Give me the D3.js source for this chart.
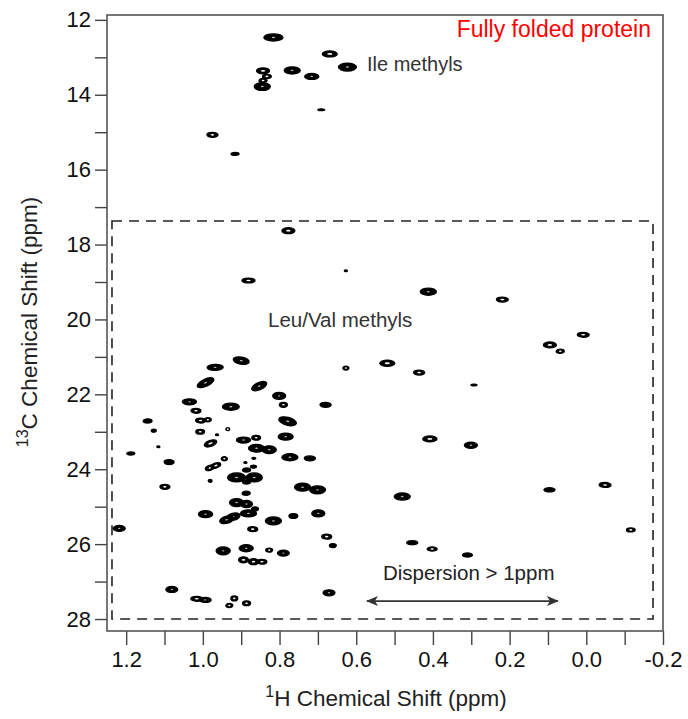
<!DOCTYPE html>
<html>
<head>
<meta charset="utf-8">
<script src="https://cdn.jsdelivr.net/npm/d3@7"></script>
<style>
  html, body { margin: 0; padding: 0; background: #fff; }
  svg text { font-family: "Liberation Sans", Arial, sans-serif; }
</style>
</head>
<body>
<svg id="chart" width="688" height="719"></svg>
<script>
// ---------------- DATA ----------------
// Axis ranges (ppm)
const hDomain = [1.25, -0.2];
const cDomain = [11.87, 28.32];
const hTickValues = [1.2, 1.1, 1.0, 0.9, 0.8, 0.7, 0.6, 0.5, 0.4, 0.3, 0.2, 0.1, 0.0, -0.1, -0.2];
const hTickLabels = ["1.2", "", "1.0", "", "0.8", "", "0.6", "", "0.4", "", "0.2", "", "0.0", "", "-0.2"];
const cTickValues = [12, 13, 14, 15, 16, 17, 18, 19, 20, 21, 22, 23, 24, 25, 26, 27, 28];
const cTickLabels = ["12", "", "14", "", "16", "", "18", "", "20", "", "22", "", "24", "", "26", "", "28"];

// Ile methyl peaks: 1H shift, 13C shift, linewidth H (ppm), linewidth C (ppm), ring contour (1) or solid (0)
const ileH    = [0.816, 0.669, 0.843, 0.833, 0.843, 0.767, 0.716, 0.623, 0.845, 0.691, 0.975, 0.916];
const ileC    = [12.47, 12.91, 13.36, 13.51, 13.62, 13.35, 13.51, 13.26, 13.78, 14.40, 15.07, 15.58];
const ileLwH  = [0.050, 0.039, 0.034, 0.023, 0.021, 0.042, 0.037, 0.047, 0.042, 0.018, 0.029, 0.021];
const ileLwC  = [0.19, 0.16, 0.16, 0.11, 0.11, 0.19, 0.16, 0.21, 0.21, 0.05, 0.13, 0.08];
const ileRing = [0, 1, 1, 1, 1, 0, 0, 0, 0, 0, 1, 0];

// Leu/Val methyl peaks
const lvH = [0.777, 0.627, 0.881, 0.412, 0.219, 0.008, 0.095, 0.068, 0.519, 0.436, 0.627, 0.293,
  0.408, 0.301, 0.480, 0.096, -0.049, -0.116, 0.454, 0.402, 0.310,
  0.900, 0.968, 0.993, 0.853, 1.035, 0.801, 0.927, 0.790, 0.680, 1.018, 1.006, 0.987,
  0.779, 1.144, 1.128, 1.007, 0.935, 0.784, 0.894, 0.861, 0.980, 0.963, 1.116, 0.860,
  0.827, 1.188, 0.773, 0.721, 1.088, 0.944, 0.867, 0.889, 0.981, 0.966, 0.886, 0.868,
  0.912, 0.866, 0.886, 1.099, 0.981, 0.740, 0.701, 0.887, 0.912, 0.886, 0.993, 0.881,
  0.921, 0.938, 0.864, 0.816, 0.764, 0.699, 1.218, 0.870, 0.677, 0.661, 0.947, 0.887,
  0.827, 0.790, 0.894, 0.868, 0.846, 1.081, 1.016, 0.994, 0.918, 0.886, 0.931, 0.671];
const lvC = [17.63, 18.70, 18.96, 19.26, 19.47, 20.41, 20.68, 20.85, 21.17, 21.42, 21.30, 21.75,
  23.19, 23.36, 24.73, 24.55, 24.42, 25.62, 25.96, 26.13, 26.29,
  21.10, 21.28, 21.69, 21.78, 22.20, 22.04, 22.33, 22.28, 22.28, 22.44, 22.70, 22.68,
  22.72, 22.71, 22.97, 23.00, 22.93, 23.13, 23.22, 23.16, 23.31, 23.08, 23.40, 23.44,
  23.48, 23.58, 23.68, 23.71, 23.81, 23.72, 23.71, 23.82, 23.96, 23.90, 24.02, 23.93,
  24.22, 24.22, 24.34, 24.47, 24.31, 24.48, 24.55, 24.64, 24.89, 24.93, 25.20, 25.18,
  25.27, 25.35, 25.06, 25.38, 25.25, 25.18, 25.58, 25.60, 25.80, 26.04, 26.18, 26.11,
  26.16, 26.24, 26.42, 26.47, 26.47, 27.21, 27.46, 27.49, 27.45, 27.58, 27.64, 27.30];
const lvLwH = [0.034, 0.008, 0.034, 0.042, 0.031, 0.031, 0.034, 0.021, 0.039, 0.029, 0.016, 0.016,
  0.037, 0.034, 0.042, 0.029, 0.031, 0.023, 0.029, 0.026, 0.026,
  0.042, 0.042, 0.047, 0.042, 0.037, 0.034, 0.044, 0.021, 0.029, 0.026, 0.026, 0.018,
  0.047, 0.023, 0.013, 0.023, 0.010, 0.039, 0.037, 0.023, 0.034, 0.008, 0.008, 0.042,
  0.037, 0.021, 0.042, 0.029, 0.026, 0.016, 0.010, 0.008, 0.026, 0.026, 0.021, 0.016,
  0.047, 0.042, 0.021, 0.026, 0.010, 0.042, 0.042, 0.021, 0.037, 0.031, 0.037, 0.042,
  0.037, 0.037, 0.018, 0.042, 0.023, 0.034, 0.031, 0.026, 0.026, 0.018, 0.037, 0.037,
  0.018, 0.031, 0.026, 0.026, 0.026, 0.031, 0.031, 0.031, 0.018, 0.021, 0.018, 0.031];
const lvLwC = [0.16, 0.05, 0.13, 0.19, 0.13, 0.13, 0.16, 0.11, 0.16, 0.13, 0.11, 0.05,
  0.16, 0.16, 0.19, 0.11, 0.13, 0.11, 0.11, 0.11, 0.11,
  0.19, 0.16, 0.19, 0.19, 0.16, 0.19, 0.19, 0.13, 0.13, 0.13, 0.13, 0.11,
  0.21, 0.11, 0.08, 0.13, 0.08, 0.19, 0.16, 0.13, 0.16, 0.05, 0.05, 0.21,
  0.21, 0.08, 0.19, 0.13, 0.13, 0.11, 0.05, 0.05, 0.13, 0.13, 0.11, 0.08,
  0.24, 0.24, 0.11, 0.13, 0.08, 0.21, 0.21, 0.11, 0.21, 0.19, 0.19, 0.19,
  0.19, 0.19, 0.11, 0.21, 0.13, 0.19, 0.16, 0.13, 0.13, 0.11, 0.21, 0.19,
  0.11, 0.16, 0.16, 0.16, 0.13, 0.16, 0.13, 0.13, 0.13, 0.13, 0.11, 0.16];
const lvRing = [1, 0, 1, 0, 1, 1, 1, 1, 1, 1, 1, 0,
  1, 0, 0, 0, 1, 1, 0, 1, 0,
  0, 0, 0, 0, 0, 0, 0, 1, 0, 1, 1, 1,
  0, 0, 0, 1, 1, 0, 0, 1, 1, 0, 0, 0,
  0, 0, 0, 0, 0, 1, 0, 0, 1, 1, 0, 0,
  0, 0, 0, 1, 0, 0, 0, 0, 0, 0, 0, 0,
  0, 0, 0, 0, 0, 0, 0, 1, 1, 0, 0, 0,
  1, 0, 1, 1, 1, 0, 1, 0, 1, 1, 1, 0];
const lvTilt = [0, 0, 0, 0, 0, 0, 0, 0, 0, 0, 0, 0,
  0, 0, 0, 0, 0, 0, 0, 0, 0,
  10, 0, -25, -25, 0, 0, 0, 0, 0, 0, 0, 0,
  15, 0, 0, 0, 0, 0, 0, 0, -20, 0, 0, 0,
  0, 0, 0, 0, 0, 0, 0, 0, -20, -20, 0, 0,
  0, 0, 0, 0, 0, 0, 0, 0, 0, 0, 0, 0,
  -15, -15, 0, 0, 0, 0, 0, 0, 0, 0, 0, 0,
  0, 0, 0, 0, 0, 0, 0, 0, 0, 0, 0, 0];

// Leu/Val region box (ppm) and dispersion arrow (ppm)
const boxH = [1.237, -0.174];
const boxC = [17.37, 28.0];
const arrowH = [0.572, 0.074];
const arrowC = 27.52;

// ---------------- LAYOUT ----------------
const svg = d3.select("#chart");
const plot = { left: 107, right: 663, top: 15, bottom: 631 };

const x = d3.scaleLinear().domain(hDomain).range([plot.left, plot.right]);
const y = d3.scaleLinear().domain(cDomain).range([plot.top, plot.bottom]);

// Axes
const xAxis = d3.axisBottom(x).tickValues(hTickValues)
  .tickFormat((d, i) => hTickLabels[i]).tickSize(14).tickPadding(6);
const yAxis = d3.axisLeft(y).tickValues(cTickValues)
  .tickFormat((d, i) => cTickLabels[i]).tickSize(12).tickPadding(4);

const gx = svg.append("g").attr("transform", `translate(0,${plot.bottom})`).call(xAxis);
const gy = svg.append("g").attr("transform", `translate(${plot.left},0)`).call(yAxis);
[gx, gy].forEach(g => {
  g.select(".domain").remove();
  g.selectAll(".tick line").attr("stroke", "#444").attr("stroke-width", 1.4);
  g.selectAll(".tick text").attr("fill", "#111").style("font-size", "22px");
});

// Frame
svg.append("rect")
  .attr("x", plot.left).attr("y", plot.top)
  .attr("width", plot.right - plot.left).attr("height", plot.bottom - plot.top)
  .attr("fill", "none").attr("stroke", "#555").attr("stroke-width", 1.6);

// Dashed Leu/Val box
svg.append("rect")
  .attr("x", x(boxH[0])).attr("y", y(boxC[0]))
  .attr("width", x(boxH[1]) - x(boxH[0])).attr("height", y(boxC[1]) - y(boxC[0]))
  .attr("fill", "none").attr("stroke", "#222").attr("stroke-width", 1.6)
  .attr("stroke-dasharray", "10,7");

// Peaks (contour-like: dark filled ellipse with outline, light core for ring-shaped contours)
function drawPeaks(H, C, lwH, lwC, ring, tilt) {
  const data = H.map((h, i) => ({
    h, c: C[i], lwH: lwH[i], lwC: lwC[i], ring: ring[i], tilt: tilt ? tilt[i] : 0
  }));
  const g = svg.append("g").selectAll("g").data(data).join("g")
    .attr("transform", d => `translate(${x(d.h)},${y(d.c)}) rotate(${d.tilt})`);
  g.append("ellipse")
    .attr("rx", d => Math.abs(x(d.h + d.lwH / 2) - x(d.h)))
    .attr("ry", d => Math.abs(y(d.c + d.lwC / 2) - y(d.c)))
    .attr("fill", "#000").attr("stroke", "#000").attr("stroke-width", 1.3);
  g.filter(d => d.ring === 1).append("ellipse")
    .attr("rx", d => Math.max(1, Math.abs(x(d.h + d.lwH / 2) - x(d.h)) * 0.35))
    .attr("ry", d => Math.max(0.8, Math.abs(y(d.c + d.lwC / 2) - y(d.c)) * 0.3))
    .attr("fill", "#fff");
  g.filter(d => d.ring === 0 && d.lwH > 0.03).append("ellipse")
    .attr("rx", d => Math.abs(x(d.h + d.lwH / 2) - x(d.h)) * 0.18)
    .attr("ry", 0.7)
    .attr("fill", "#bbb");
}
drawPeaks(ileH, ileC, ileLwH, ileLwC, ileRing, null);
drawPeaks(lvH, lvC, lvLwH, lvLwC, lvRing, lvTilt);

// Arrow
const defs = svg.append("defs");
defs.append("marker").attr("id", "ah").attr("viewBox", "0 0 12 10")
  .attr("refX", 11).attr("refY", 5).attr("markerWidth", 12).attr("markerHeight", 10)
  .attr("markerUnits", "userSpaceOnUse").attr("orient", "auto-start-reverse")
  .append("path").attr("d", "M0,0 L12,5 L0,10 L3,5 Z").attr("fill", "#333");
svg.append("line")
  .attr("x1", x(arrowH[0])).attr("x2", x(arrowH[1]))
  .attr("y1", y(arrowC)).attr("y2", y(arrowC))
  .attr("stroke", "#333").attr("stroke-width", 1.8)
  .attr("marker-start", "url(#ah)").attr("marker-end", "url(#ah)");

// Annotations
svg.append("text").attr("x", 651).attr("y", 37).attr("text-anchor", "end")
  .attr("fill", "#ff0000").style("font-size", "23px").text("Fully folded protein");
svg.append("text").attr("x", 367).attr("y", 71)
  .attr("fill", "#333").style("font-size", "20px").text("Ile methyls");
svg.append("text").attr("x", 268).attr("y", 327)
  .attr("fill", "#333").style("font-size", "20.5px").text("Leu/Val methyls");
svg.append("text").attr("x", 383).attr("y", 580)
  .attr("fill", "#222").style("font-size", "20.5px").text("Dispersion > 1ppm");

// Axis titles
const xt = svg.append("text").attr("x", 386).attr("y", 706).attr("text-anchor", "middle")
  .attr("fill", "#222").style("font-size", "22.5px");
xt.append("tspan").attr("dy", "-9").style("font-size", "16px").text("1");
xt.append("tspan").attr("dy", "9").text("H Chemical Shift (ppm)");

const yt = svg.append("text").attr("transform", "translate(37,322) rotate(-90)")
  .attr("text-anchor", "middle").attr("fill", "#222").style("font-size", "22.5px");
yt.append("tspan").attr("dy", "-9").style("font-size", "16px").text("13");
yt.append("tspan").attr("dy", "9").text("C Chemical Shift (ppm)");
</script>
</body>
</html>
